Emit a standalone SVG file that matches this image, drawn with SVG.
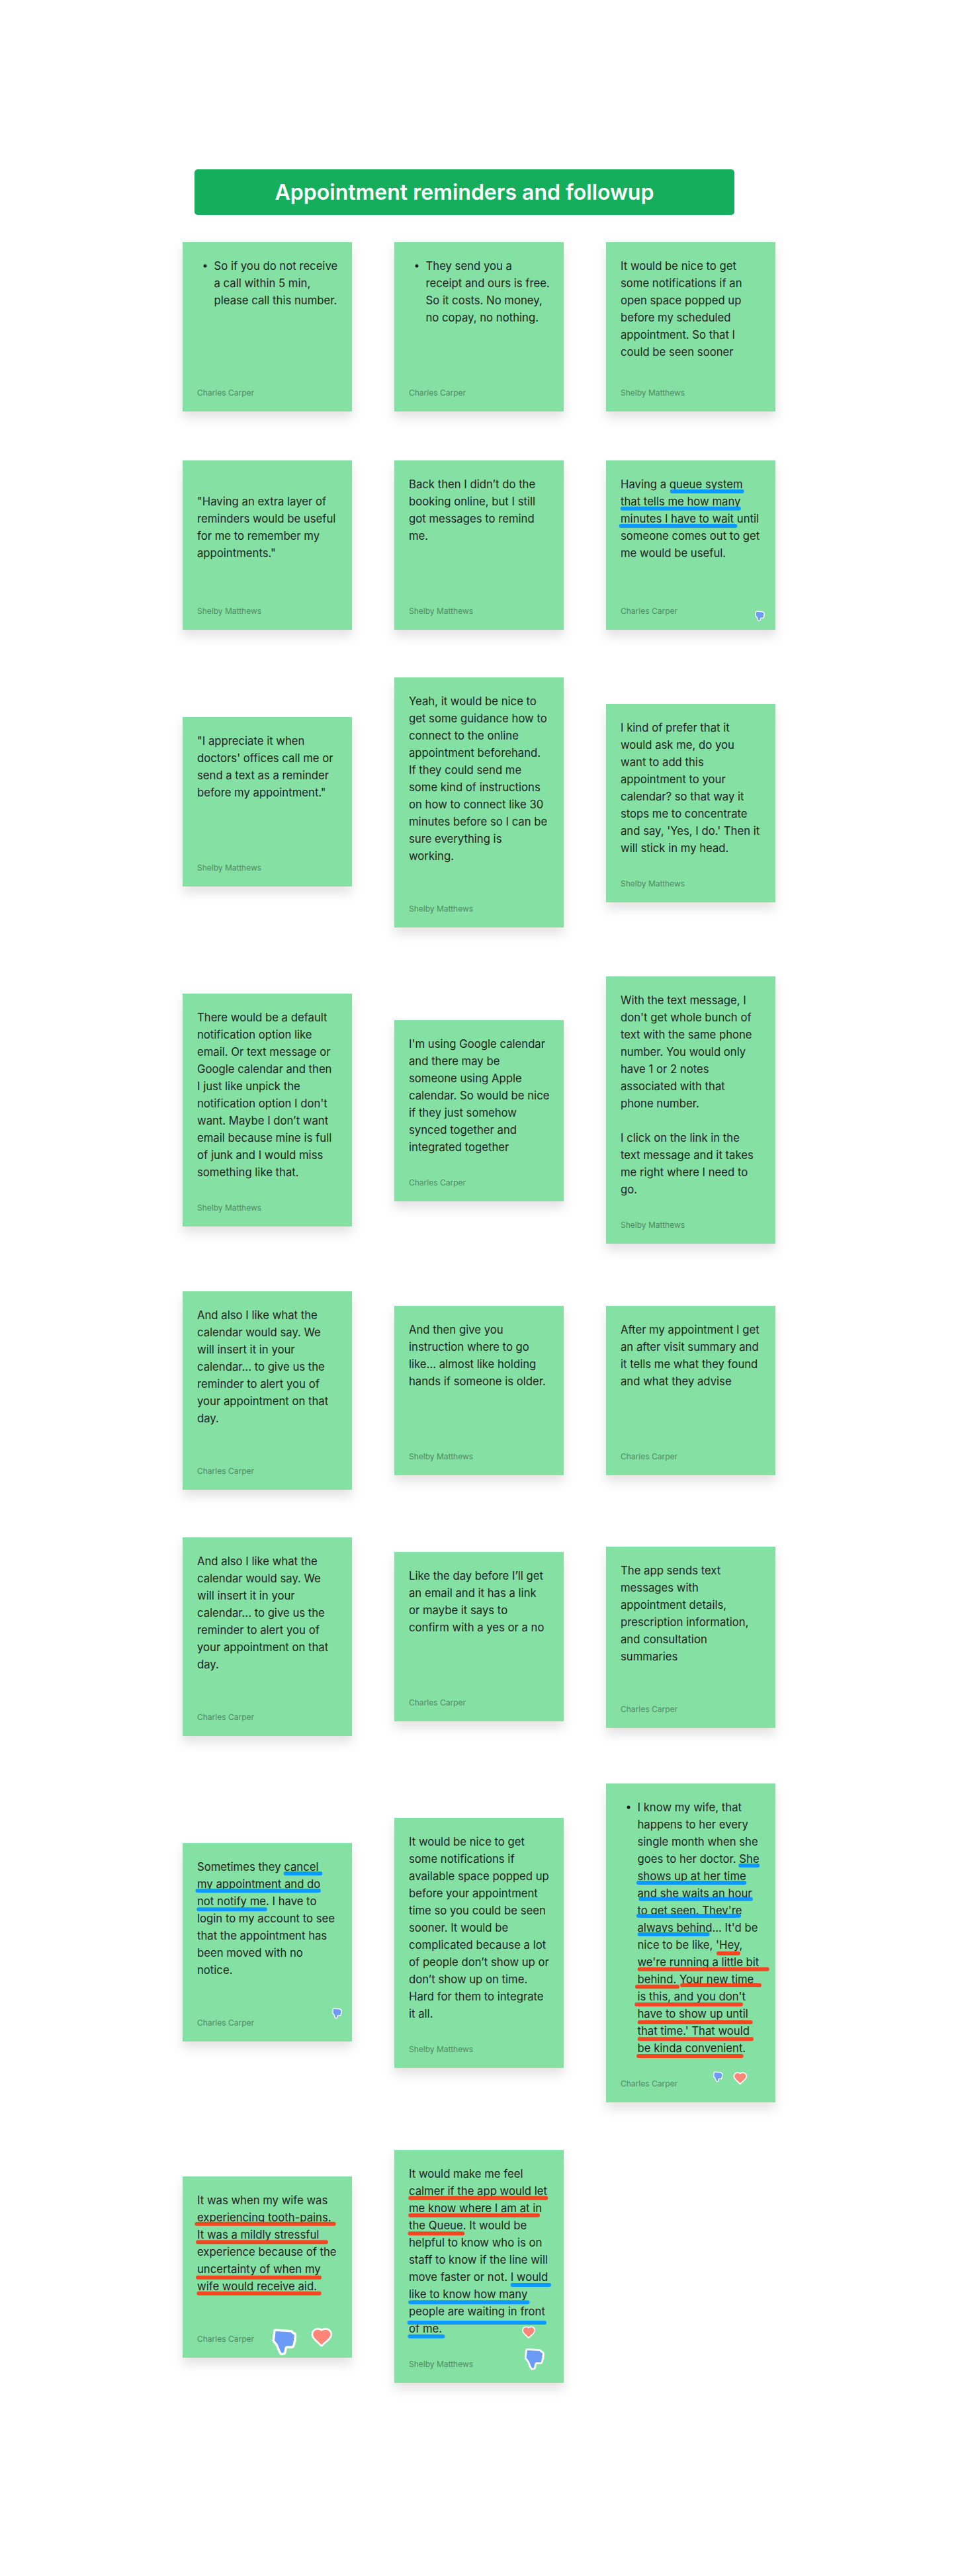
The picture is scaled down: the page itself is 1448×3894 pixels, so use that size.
<svg xmlns="http://www.w3.org/2000/svg" width="1448" height="3894" viewBox="0 0 1448 3894">
<style>
.card{fill:#85e0a3;filter:url(#sh)}
.t{font-family:Inter,"Noto Sans",sans-serif;font-size:16.700px;fill:#1e1e1e}
.by{font-family:Inter,"Noto Sans",sans-serif;font-size:12px;fill:#4f8a63}
.title{font-family:Inter,"Noto Sans",sans-serif;font-size:32px;font-weight:600;fill:#fff;text-anchor:middle}
.b{stroke:#0d99ff;stroke-width:6;stroke-linecap:round;fill:none}
.r{stroke:#f24822;stroke-width:6;stroke-linecap:round;fill:none}
.dot{fill:#1e1e1e}
</style>
<defs>
<filter id="sh" x="-20%" y="-20%" width="140%" height="140%"><feDropShadow dx="0" dy="10" stdDeviation="8" flood-color="#000" flood-opacity="0.11"/></filter>
<symbol id="thumb" viewBox="0 0 38 42"><path d="M5.700 4.700 L29 6.300 L31.700 9 L34 9.700 L34.300 14 L33.300 15 L34 19 L32.700 20.300 L32.700 23 L31 27.300 L22.300 27.300 L20 29 L18.300 37.300 L15 38.300 L13.300 35.700 L9 25 L4 19 Z" fill="#6b9bf7" stroke="#fff" stroke-width="7" stroke-linejoin="round" paint-order="stroke"/></symbol>
<symbol id="heart" viewBox="0 0 33 31"><path d="M16 26.700 C12 22 3.300 17 3.300 11 C3.300 7 6.500 4 10 4 C12.500 4 15 5 16 6.700 C17 5 19.500 4 22.500 4 C26 4 29.300 7 29.300 11 C29.300 17 20 22 16 26.700 Z" fill="#ff8577" stroke="#fff" stroke-width="5.500" stroke-linejoin="round" paint-order="stroke"/></symbol>
</defs>
<rect width="1448" height="3894" fill="#fff"/>
<g id="header"><rect x="294" y="256" width="816" height="69" rx="5" fill="#14ae5c"/><text class="title" x="702" y="302">Appointment reminders and followup</text></g>
<g id="connectors"></g>
<g id="n1"><rect class="card" x="276" y="366" width="256" height="256"/><circle class="dot" cx="310" cy="402" r="2.500"/><text class="t" x="323.500" y="407.500">So if you do not receive<tspan x="323.500" dy="26">a call within 5 min,</tspan><tspan x="323.500" dy="26">please call this number.</tspan></text><text class="by" x="298" y="597.500">Charles Carper</text></g>
<g id="n2"><rect class="card" x="596" y="366" width="256" height="256"/><circle class="dot" cx="630" cy="402" r="2.500"/><text class="t" x="643.500" y="407.500">They send you a<tspan x="643.500" dy="26">receipt and ours is free.</tspan><tspan x="643.500" dy="26">So it costs. No money,</tspan><tspan x="643.500" dy="26">no copay, no nothing.</tspan></text><text class="by" x="618" y="597.500">Charles Carper</text></g>
<g id="n3"><rect class="card" x="916" y="366" width="256" height="256"/><text class="t" x="938" y="407.500">It would be nice to get<tspan x="938" dy="26">some notifications if an</tspan><tspan x="938" dy="26">open space popped up</tspan><tspan x="938" dy="26">before my scheduled</tspan><tspan x="938" dy="26">appointment. So that I</tspan><tspan x="938" dy="26">could be seen sooner</tspan></text><text class="by" x="938" y="597.500">Shelby Matthews</text></g>
<g id="n4"><rect class="card" x="276" y="696" width="256" height="256"/><text class="t" x="298" y="763.500">"Having an extra layer of<tspan x="298" dy="26">reminders would be useful</tspan><tspan x="298" dy="26">for me to remember my</tspan><tspan x="298" dy="26">appointments."</tspan></text><text class="by" x="298" y="927.500">Shelby Matthews</text></g>
<g id="n5"><rect class="card" x="596" y="696" width="256" height="256"/><text class="t" x="618" y="737.500">Back then I didn’t do the<tspan x="618" dy="26">booking online, but I still</tspan><tspan x="618" dy="26">got messages to remind</tspan><tspan x="618" dy="26">me.</tspan></text><text class="by" x="618" y="927.500">Shelby Matthews</text></g>
<g id="n6"><rect class="card" x="916" y="696" width="256" height="256"/><text class="t" x="938" y="737.500">Having a queue system<tspan x="938" dy="26">that tells me how many</tspan><tspan x="938" dy="26">minutes I have to wait until</tspan><tspan x="938" dy="26">someone comes out to get</tspan><tspan x="938" dy="26">me would be useful.</tspan></text><path class="b" d="M1015.700 742.700H1121.700M940.700 768.700H1116.900M938.800 795H1111.400"/><text class="by" x="938" y="927.500">Charles Carper</text><use href="#thumb" x="1141" y="923" width="15" height="16.500"/></g>
<g id="n7"><rect class="card" x="276" y="1084" width="256" height="256"/><text class="t" x="298" y="1125.500">"I appreciate it when<tspan x="298" dy="26">doctors' offices call me or</tspan><tspan x="298" dy="26">send a text as a reminder</tspan><tspan x="298" dy="26">before my appointment."</tspan></text><text class="by" x="298" y="1315.500">Shelby Matthews</text></g>
<g id="n8"><rect class="card" x="596" y="1024" width="256" height="378"/><text class="t" x="618" y="1065.500">Yeah, it would be nice to<tspan x="618" dy="26">get some guidance how to</tspan><tspan x="618" dy="26">connect to the online</tspan><tspan x="618" dy="26">appointment beforehand.</tspan><tspan x="618" dy="26">If they could send me</tspan><tspan x="618" dy="26">some kind of instructions</tspan><tspan x="618" dy="26">on how to connect like 30</tspan><tspan x="618" dy="26">minutes before so I can be</tspan><tspan x="618" dy="26">sure everything is</tspan><tspan x="618" dy="26">working.</tspan></text><text class="by" x="618" y="1377.500">Shelby Matthews</text></g>
<g id="n9"><rect class="card" x="916" y="1064" width="256" height="300"/><text class="t" x="938" y="1105.500">I kind of prefer that it<tspan x="938" dy="26">would ask me, do you</tspan><tspan x="938" dy="26">want to add this</tspan><tspan x="938" dy="26">appointment to your</tspan><tspan x="938" dy="26">calendar? so that way it</tspan><tspan x="938" dy="26">stops me to concentrate</tspan><tspan x="938" dy="26">and say, 'Yes, I do.' Then it</tspan><tspan x="938" dy="26">will stick in my head.</tspan></text><text class="by" x="938" y="1339.500">Shelby Matthews</text></g>
<g id="n10"><rect class="card" x="276" y="1502" width="256" height="352"/><text class="t" x="298" y="1543.500">There would be a default<tspan x="298" dy="26">notification option like</tspan><tspan x="298" dy="26">email. Or text message or</tspan><tspan x="298" dy="26">Google calendar and then</tspan><tspan x="298" dy="26">I just like unpick the</tspan><tspan x="298" dy="26">notification option I don't</tspan><tspan x="298" dy="26">want. Maybe I don’t want</tspan><tspan x="298" dy="26">email because mine is full</tspan><tspan x="298" dy="26">of junk and I would miss</tspan><tspan x="298" dy="26">something like that.</tspan></text><text class="by" x="298" y="1829.500">Shelby Matthews</text></g>
<g id="n11"><rect class="card" x="596" y="1542" width="256" height="274"/><text class="t" x="618" y="1583.500">I'm using Google calendar<tspan x="618" dy="26">and there may be</tspan><tspan x="618" dy="26">someone using Apple</tspan><tspan x="618" dy="26">calendar. So would be nice</tspan><tspan x="618" dy="26">if they just somehow</tspan><tspan x="618" dy="26">synced together and</tspan><tspan x="618" dy="26">integrated together</tspan></text><text class="by" x="618" y="1791.500">Charles Carper</text></g>
<g id="n12"><rect class="card" x="916" y="1476" width="256" height="404"/><text class="t" x="938" y="1517.500">With the text message, I<tspan x="938" dy="26">don't get whole bunch of</tspan><tspan x="938" dy="26">text with the same phone</tspan><tspan x="938" dy="26">number. You would only</tspan><tspan x="938" dy="26">have 1 or 2 notes</tspan><tspan x="938" dy="26">associated with that</tspan><tspan x="938" dy="26">phone number.</tspan><tspan x="938" dy="52">I click on the link in the</tspan><tspan x="938" dy="26">text message and it takes</tspan><tspan x="938" dy="26">me right where I need to</tspan><tspan x="938" dy="26">go.</tspan></text><text class="by" x="938" y="1855.500">Shelby Matthews</text></g>
<g id="n13"><rect class="card" x="276" y="1952" width="256" height="300"/><text class="t" x="298" y="1993.500">And also I like what the<tspan x="298" dy="26">calendar would say. We</tspan><tspan x="298" dy="26">will insert it in your</tspan><tspan x="298" dy="26">calendar... to give us the</tspan><tspan x="298" dy="26">reminder to alert you of</tspan><tspan x="298" dy="26">your appointment on that</tspan><tspan x="298" dy="26">day.</tspan></text><text class="by" x="298" y="2227.500">Charles Carper</text></g>
<g id="n14"><rect class="card" x="596" y="1974" width="256" height="256"/><text class="t" x="618" y="2015.500">And then give you<tspan x="618" dy="26">instruction where to go</tspan><tspan x="618" dy="26">like... almost like holding</tspan><tspan x="618" dy="26">hands if someone is older.</tspan></text><text class="by" x="618" y="2205.500">Shelby Matthews</text></g>
<g id="n15"><rect class="card" x="916" y="1974" width="256" height="256"/><text class="t" x="938" y="2015.500">After my appointment I get<tspan x="938" dy="26">an after visit summary and</tspan><tspan x="938" dy="26">it tells me what they found</tspan><tspan x="938" dy="26">and what they advise</tspan></text><text class="by" x="938" y="2205.500">Charles Carper</text></g>
<g id="n16"><rect class="card" x="276" y="2324" width="256" height="300"/><text class="t" x="298" y="2365.500">And also I like what the<tspan x="298" dy="26">calendar would say. We</tspan><tspan x="298" dy="26">will insert it in your</tspan><tspan x="298" dy="26">calendar... to give us the</tspan><tspan x="298" dy="26">reminder to alert you of</tspan><tspan x="298" dy="26">your appointment on that</tspan><tspan x="298" dy="26">day.</tspan></text><text class="by" x="298" y="2599.500">Charles Carper</text></g>
<g id="n17"><rect class="card" x="596" y="2346" width="256" height="256"/><text class="t" x="618" y="2387.500">Like the day before I’ll get<tspan x="618" dy="26">an email and it has a link</tspan><tspan x="618" dy="26">or maybe it says to</tspan><tspan x="618" dy="26">confirm with a yes or a no</tspan></text><text class="by" x="618" y="2577.500">Charles Carper</text></g>
<g id="n18"><rect class="card" x="916" y="2338" width="256" height="274"/><text class="t" x="938" y="2379.500">The app sends text<tspan x="938" dy="26">messages with</tspan><tspan x="938" dy="26">appointment details,</tspan><tspan x="938" dy="26">prescription information,</tspan><tspan x="938" dy="26">and consultation</tspan><tspan x="938" dy="26">summaries</tspan></text><text class="by" x="938" y="2587.500">Charles Carper</text></g>
<g id="n19"><rect class="card" x="276" y="2786" width="256" height="300"/><text class="t" x="298" y="2827.500">Sometimes they cancel<tspan x="298" dy="26">my appointment and do</tspan><tspan x="298" dy="26">not notify me. I have to</tspan><tspan x="298" dy="26">login to my account to see</tspan><tspan x="298" dy="26">that the appointment has</tspan><tspan x="298" dy="26">been moved with no</tspan><tspan x="298" dy="26">notice.</tspan></text><path class="b" d="M431.600 2832H484.300M298.400 2858H481.900M300.200 2886.300H400.800"/><text class="by" x="298" y="3061.500">Charles Carper</text><use href="#thumb" x="501.800" y="3035" width="15.200" height="16.800"/></g>
<g id="n20"><rect class="card" x="596" y="2748" width="256" height="378"/><text class="t" x="618" y="2789.500">It would be nice to get<tspan x="618" dy="26">some notifications if</tspan><tspan x="618" dy="26">available space popped up</tspan><tspan x="618" dy="26">before your appointment</tspan><tspan x="618" dy="26">time so you could be seen</tspan><tspan x="618" dy="26">sooner. It would be</tspan><tspan x="618" dy="26">complicated because a lot</tspan><tspan x="618" dy="26">of people don’t show up or</tspan><tspan x="618" dy="26">don’t show up on time.</tspan><tspan x="618" dy="26">Hard for them to integrate</tspan><tspan x="618" dy="26">it all.</tspan></text><text class="by" x="618" y="3101.500">Shelby Matthews</text></g>
<g id="n21"><rect class="card" x="916" y="2696" width="256" height="482"/><circle class="dot" cx="950" cy="2732" r="2.500"/><text class="t" x="963.500" y="2737.500">I know my wife, that<tspan x="963.500" dy="26">happens to her every</tspan><tspan x="963.500" dy="26">single month when she</tspan><tspan x="963.500" dy="26">goes to her doctor. She</tspan><tspan x="963.500" dy="26">shows up at her time</tspan><tspan x="963.500" dy="26">and she waits an hour</tspan><tspan x="963.500" dy="26">to get seen. They're</tspan><tspan x="963.500" dy="26">always behind... It'd be</tspan><tspan x="963.500" dy="26">nice to be like, 'Hey,</tspan><tspan x="963.500" dy="26">we're running a little bit</tspan><tspan x="963.500" dy="26">behind. Your new time</tspan><tspan x="963.500" dy="26">is this, and you don't</tspan><tspan x="963.500" dy="26">have to show up until</tspan><tspan x="963.500" dy="26">that time.' That would</tspan><tspan x="963.500" dy="26">be kinda convenient.</tspan></text><path class="b" d="M1119.200 2820H1145.300M964.900 2846H1125.300M968.500 2870.700H1135M964.900 2896H1116.900M966.700 2924H1069.700"/><path class="r" d="M1086 2952.700H1116M966.700 2976.700H1159.700M963 3003.300H1024M1031 3001H1148M962.300 3030H1120M966.700 3057H1134.700M966.700 3082.300H1136M965 3108H1120.700"/><text class="by" x="938" y="3153.500">Charles Carper</text><use href="#thumb" x="1077.700" y="3131" width="15" height="16.500"/><use href="#heart" x="1108" y="3131.300" width="22" height="20.600"/></g>
<g id="n22"><rect class="card" x="276" y="3290" width="256" height="274"/><text class="t" x="298" y="3331.500">It was when my wife was<tspan x="298" dy="26">experiencing tooth-pains.</tspan><tspan x="298" dy="26">It was a mildly stressful</tspan><tspan x="298" dy="26">experience because of the</tspan><tspan x="298" dy="26">uncertainty of when my</tspan><tspan x="298" dy="26">wife would receive aid.</tspan></text><path class="r" d="M297.400 3361.700H504.700M299 3389.300H493M299 3442.700H483M300.300 3466.700H482.700"/><text class="by" x="298" y="3539.500">Charles Carper</text><use href="#thumb" x="411" y="3519.300" width="37.500" height="41.500"/><use href="#heart" x="470" y="3517.700" width="33" height="31"/></g>
<g id="n23"><rect class="card" x="596" y="3250" width="256" height="352"/><text class="t" x="618" y="3291.500">It would make me feel<tspan x="618" dy="26">calmer if the app would let</tspan><tspan x="618" dy="26">me know where I am at in</tspan><tspan x="618" dy="26">the Queue. It would be</tspan><tspan x="618" dy="26">helpful to know who is on</tspan><tspan x="618" dy="26">staff to know if the line will</tspan><tspan x="618" dy="26">move faster or not. I would</tspan><tspan x="618" dy="26">like to know how many</tspan><tspan x="618" dy="26">people are waiting in front</tspan><tspan x="618" dy="26">of me.</tspan></text><path class="r" d="M620.200 3322.700H825.400M620.200 3348.700H813M619.400 3376.300H699.300"/><path class="b" d="M774.600 3454H830M620.200 3480.300H797.600M618.600 3511H823M619.400 3531.700H669.400"/><text class="by" x="618" y="3577.500">Shelby Matthews</text><use href="#heart" x="788.600" y="3515.700" width="21.400" height="20"/><use href="#thumb" x="792.300" y="3549" width="30.700" height="33.900"/></g>
</svg>
